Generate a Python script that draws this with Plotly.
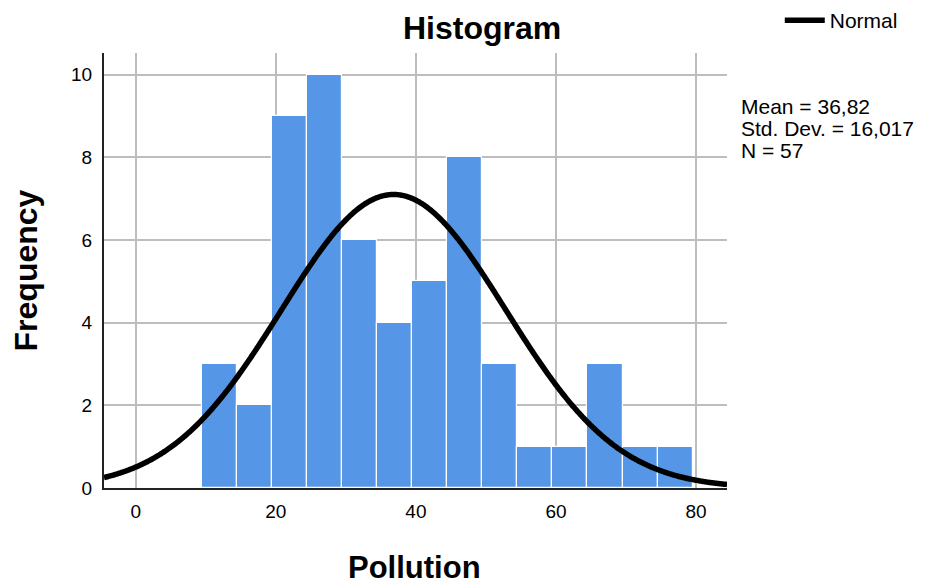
import numpy as np
import plotly.graph_objects as go

# Frequency histogram of Pollution (bins of width 5)
bin_centers = [12, 17, 22, 27, 32, 37, 42, 47, 52, 57, 62, 67, 72, 77]
frequencies = [3, 2, 9, 10, 6, 4, 5, 8, 3, 1, 1, 3, 1, 1]
bin_width = 5

mean_val = 36.82
std_dev = 16.017
n_obs = 57

x_ticks = [0, 20, 40, 60, 80]
y_ticks = [0, 2, 4, 6, 8, 10]

x_range = [-4.53, 84.42]
y_range = [0, 10.52]

FONT = "Liberation Sans, Arial, sans-serif"
BAR_COLOR = "#5596e6"
GRID_COLOR = "#bdbdbd"

# Normal curve scaled to counts: N * bin width * pdf
xc = np.linspace(x_range[0], x_range[1], 600)
yc = n_obs * bin_width * np.exp(-0.5 * ((xc - mean_val) / std_dev) ** 2) / (std_dev * np.sqrt(2 * np.pi))

fig = go.Figure()
fig.add_trace(go.Bar(
    x=bin_centers, y=frequencies, width=bin_width,
    marker=dict(color=BAR_COLOR, line=dict(color="white", width=1.2)),
    showlegend=False, hoverinfo="x+y",
))
fig.add_trace(go.Scatter(
    x=xc, y=yc, mode="lines", name="Normal",
    line=dict(color="black", width=5.5, simplify=False),
))

fig.update_layout(
    width=925, height=584,
    margin=dict(l=104, r=198, t=53, b=96, autoexpand=False),
    paper_bgcolor="white", plot_bgcolor="white",
    font=dict(family=FONT, color="black", size=19),
    bargap=0,
    showlegend=True,
    legend=dict(
        xref="container", yref="container",
        x=0.843, xanchor="left", y=1.0, yanchor="top",
        bgcolor="rgba(0,0,0,0)", borderwidth=0,
        font=dict(family=FONT, size=21, color="black"),
        itemwidth=40,
    ),
    xaxis=dict(
        range=x_range, tickvals=x_ticks, ticktext=[str(v) for v in x_ticks],
        showgrid=True, gridcolor=GRID_COLOR, gridwidth=2,
        zeroline=False, showline=True, linecolor="#222222", linewidth=2,
        ticks="", ticklabelstandoff=5,
        tickfont=dict(family=FONT, size=19, color="black"),
    ),
    yaxis=dict(
        range=y_range, tickvals=y_ticks, ticktext=[str(v) for v in y_ticks],
        showgrid=True, gridcolor=GRID_COLOR, gridwidth=2,
        zeroline=False, showline=True, linecolor="#222222", linewidth=2,
        ticks="", ticklabelstandoff=6,
        tickfont=dict(family=FONT, size=19, color="black"),
    ),
)

annotations = [
    dict(text="<b>Histogram</b>", x=0.606, y=1.057, font=dict(size=32)),
    dict(text="<b>Pollution</b>", x=0.4976, y=-0.182, font=dict(size=31)),
    dict(text="<b>Frequency</b>", x=-0.126, y=0.499, textangle=-90, font=dict(size=32)),
]
stats_lines = [
    ("Mean = " + f"{mean_val:.2f}".replace(".", ","), 0.876),
    ("Std. Dev. = " + f"{std_dev:.3f}".replace(".", ","), 0.8265),
    ("N = " + str(n_obs), 0.777),
]
for txt, yy in stats_lines:
    annotations.append(dict(text=txt, x=1.0195, y=yy, xanchor="left", font=dict(size=21)))

for a in annotations:
    a.setdefault("xanchor", "center")
    a.update(xref="paper", yref="paper", yanchor="middle", showarrow=False)
    a["font"] = dict(family=FONT, color="black", **a["font"])
fig.update_layout(annotations=annotations)

fig.write_html("out.html")
